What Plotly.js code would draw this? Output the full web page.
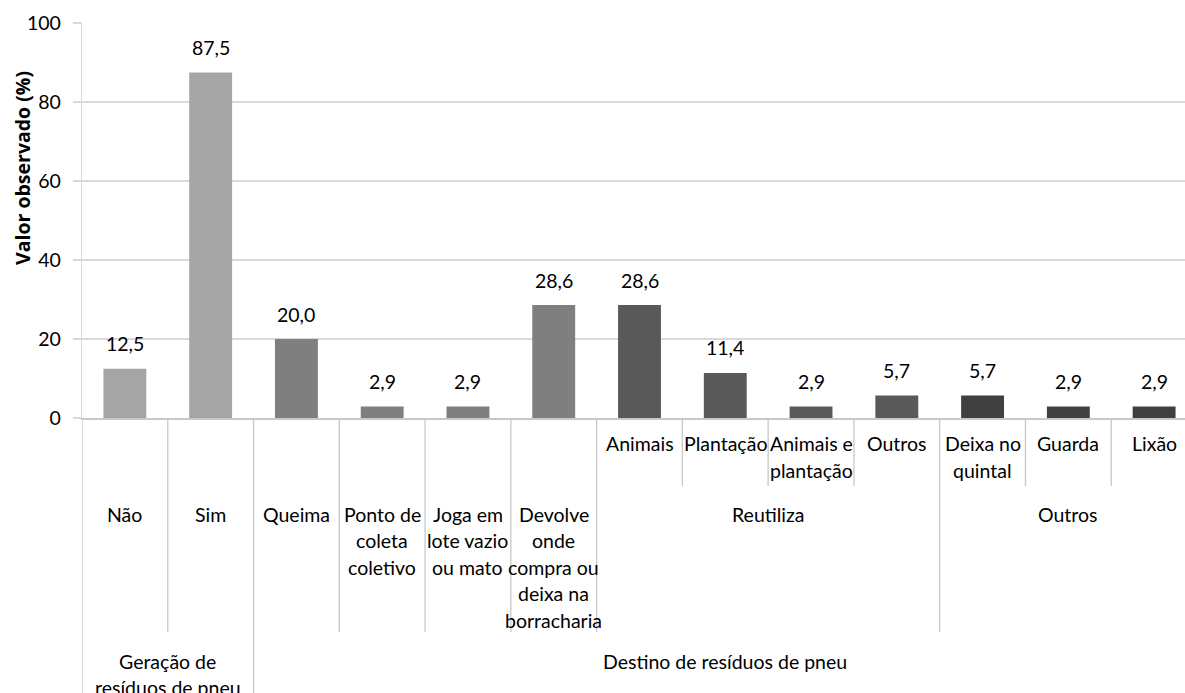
<!DOCTYPE html>
<html><head><meta charset="utf-8">
<script src="https://cdn.plot.ly/plotly-3.0.1.min.js"></script>
<style>html,body{margin:0;padding:0;overflow:hidden;background:#fff}#chart{width:1200px;height:693px}</style>
</head><body><div id="chart"></div>
<script>
// ---- data ----
const categories = ["Não","Sim","Queima","Ponto de<br>coleta<br>coletivo","Joga em<br>lote vazio<br>ou mato","Devolve<br>onde<br>compra ou<br>deixa na<br>borracharia","Animais","Plantação","Animais e<br>plantação","Outros","Deixa no<br>quintal","Guarda","Lixão"];
const values = [12.5,87.5,20.0,2.9,2.9,28.6,28.6,11.4,2.9,5.7,5.7,2.9,2.9];
const middleGroups = [null,null,null,null,null,null,"Reutiliza","Reutiliza","Reutiliza","Reutiliza","Outros","Outros","Outros"];
const outerGroups = ["Geração de<br>resíduos de pneu","Geração de<br>resíduos de pneu","Destino de resíduos de pneu","Destino de resíduos de pneu","Destino de resíduos de pneu","Destino de resíduos de pneu","Destino de resíduos de pneu","Destino de resíduos de pneu","Destino de resíduos de pneu","Destino de resíduos de pneu","Destino de resíduos de pneu","Destino de resíduos de pneu","Destino de resíduos de pneu"];
const yTicks = [0,20,40,60,80,100];
const yTitle = "Valor observado (%)";

// ---- styles / layout constants ----
const FONT = 'Lato, "Open Sans", sans-serif';
const TITLE_FONT = '"Open Sans", Lato, sans-serif';
const FS = 19.5;
const W = 1200, H = 693, ML = 82, MR = 3, MT = 23, MB = 275;
const plotW = W - ML - MR, plotH = H - MT - MB, axisY = H - MB;
const groupColors = {gen: '#a5a5a5', dest: '#7f7f7f', Reutiliza: '#595959', Outros: '#404040'};
const SEP = '#c8c8c8';
const rowA = 444, rowB = 514, rowC = 661, lineStep = 26.5;
const sepA = 486, sepB = 632, sepC = H;

const py = p => (axisY - p) / plotH;
const px = p => (p - ML) / plotW;

const xs = categories.map((_, i) => i);
const colors = xs.map(i => outerGroups[i] === outerGroups[0] ? groupColors.gen
  : (middleGroups[i] === null ? groupColors.dest : groupColors[middleGroups[i]]));

const annotations = [];
function addLabel(text, x, yTop) {
  text.split('<br>').forEach((ln, k) => {
    annotations.push({xref: 'x', yref: 'paper', x: x, y: py(yTop + k * lineStep),
      text: ln, showarrow: false, xanchor: 'center', yanchor: 'middle',
      font: {family: FONT, size: FS, color: '#000'}});
  });
}
// value labels
xs.forEach(i => {
  annotations.push({xref: 'x', yref: 'y', x: i, y: values[i], yshift: 25,
    text: values[i].toFixed(1).replace('.', ','), showarrow: false,
    xanchor: 'center', yanchor: 'middle', font: {family: FONT, size: FS, color: '#000'}});
});
// category labels
xs.forEach(i => {
  if (middleGroups[i] === null) addLabel(categories[i], i, rowB);
  else addLabel(categories[i], i, rowA);
});
function spans(arr) {
  const out = [];
  arr.forEach((g, i) => {
    if (out.length && out[out.length - 1].g === g) out[out.length - 1].end = i;
    else out.push({g: g, start: i, end: i});
  });
  return out;
}
spans(middleGroups).filter(s => s.g !== null).forEach(s => addLabel(s.g, (s.start + s.end) / 2, rowB));
spans(outerGroups).forEach(s => addLabel(s.g, (s.start + s.end) / 2, rowC));
// y title
annotations.push({xref: 'paper', yref: 'paper', x: px(23), y: py(168), text: yTitle,
  textangle: -90, showarrow: false, xanchor: 'center', yanchor: 'middle',
  font: {family: TITLE_FONT, size: 19.5, color: '#000', weight: 'bold'}});

// separators
const shapes = [];
function sep(b, bottom) {
  shapes.push({type: 'line', xref: 'x', yref: 'paper', x0: b, x1: b, y0: py(axisY + 1), y1: py(bottom),
    line: {color: SEP, width: 1.3}});
}
sep(-0.5, sepC);
for (let i = 0; i < xs.length - 1; i++) {
  const b = i + 0.5;
  if (outerGroups[i] !== outerGroups[i + 1]) sep(b, sepC);
  else if (middleGroups[i] === null || middleGroups[i] !== middleGroups[i + 1]) sep(b, sepB);
  else sep(b, sepA);
}
sep(xs.length - 0.5, sepC);

const trace = {type: 'bar', x: xs, y: values, width: 0.5, marker: {color: colors, line: {width: 0}},
  hoverinfo: 'skip'};

const layout = {
  width: W, height: H,
  margin: {l: ML, r: MR, t: MT, b: MB, pad: 0},
  paper_bgcolor: '#fff', plot_bgcolor: '#fff',
  showlegend: false,
  font: {family: FONT, size: FS, color: '#000'},
  xaxis: {range: [-0.5, xs.length - 0.5], showticklabels: false, ticks: '', showgrid: false,
    zeroline: false, showline: true, linecolor: SEP, linewidth: 1.6, fixedrange: true},
  yaxis: {range: [0, 100], tickvals: yTicks, ticktext: yTicks.map(String), showgrid: true,
    gridcolor: '#d9d9d9', gridwidth: 1.2, zeroline: false, showline: true, linecolor: '#d9d9d9',
    linewidth: 1.2, ticks: 'outside', ticklen: 8, tickcolor: '#d9d9d9', tickwidth: 1.2,
    ticklabelstandoff: 8, tickfont: {family: FONT, size: FS, color: '#000'}, fixedrange: true},
  annotations: annotations,
  shapes: shapes
};
Plotly.newPlot('chart', [trace], layout, {displayModeBar: false, staticPlot: true});
</script></body></html>
